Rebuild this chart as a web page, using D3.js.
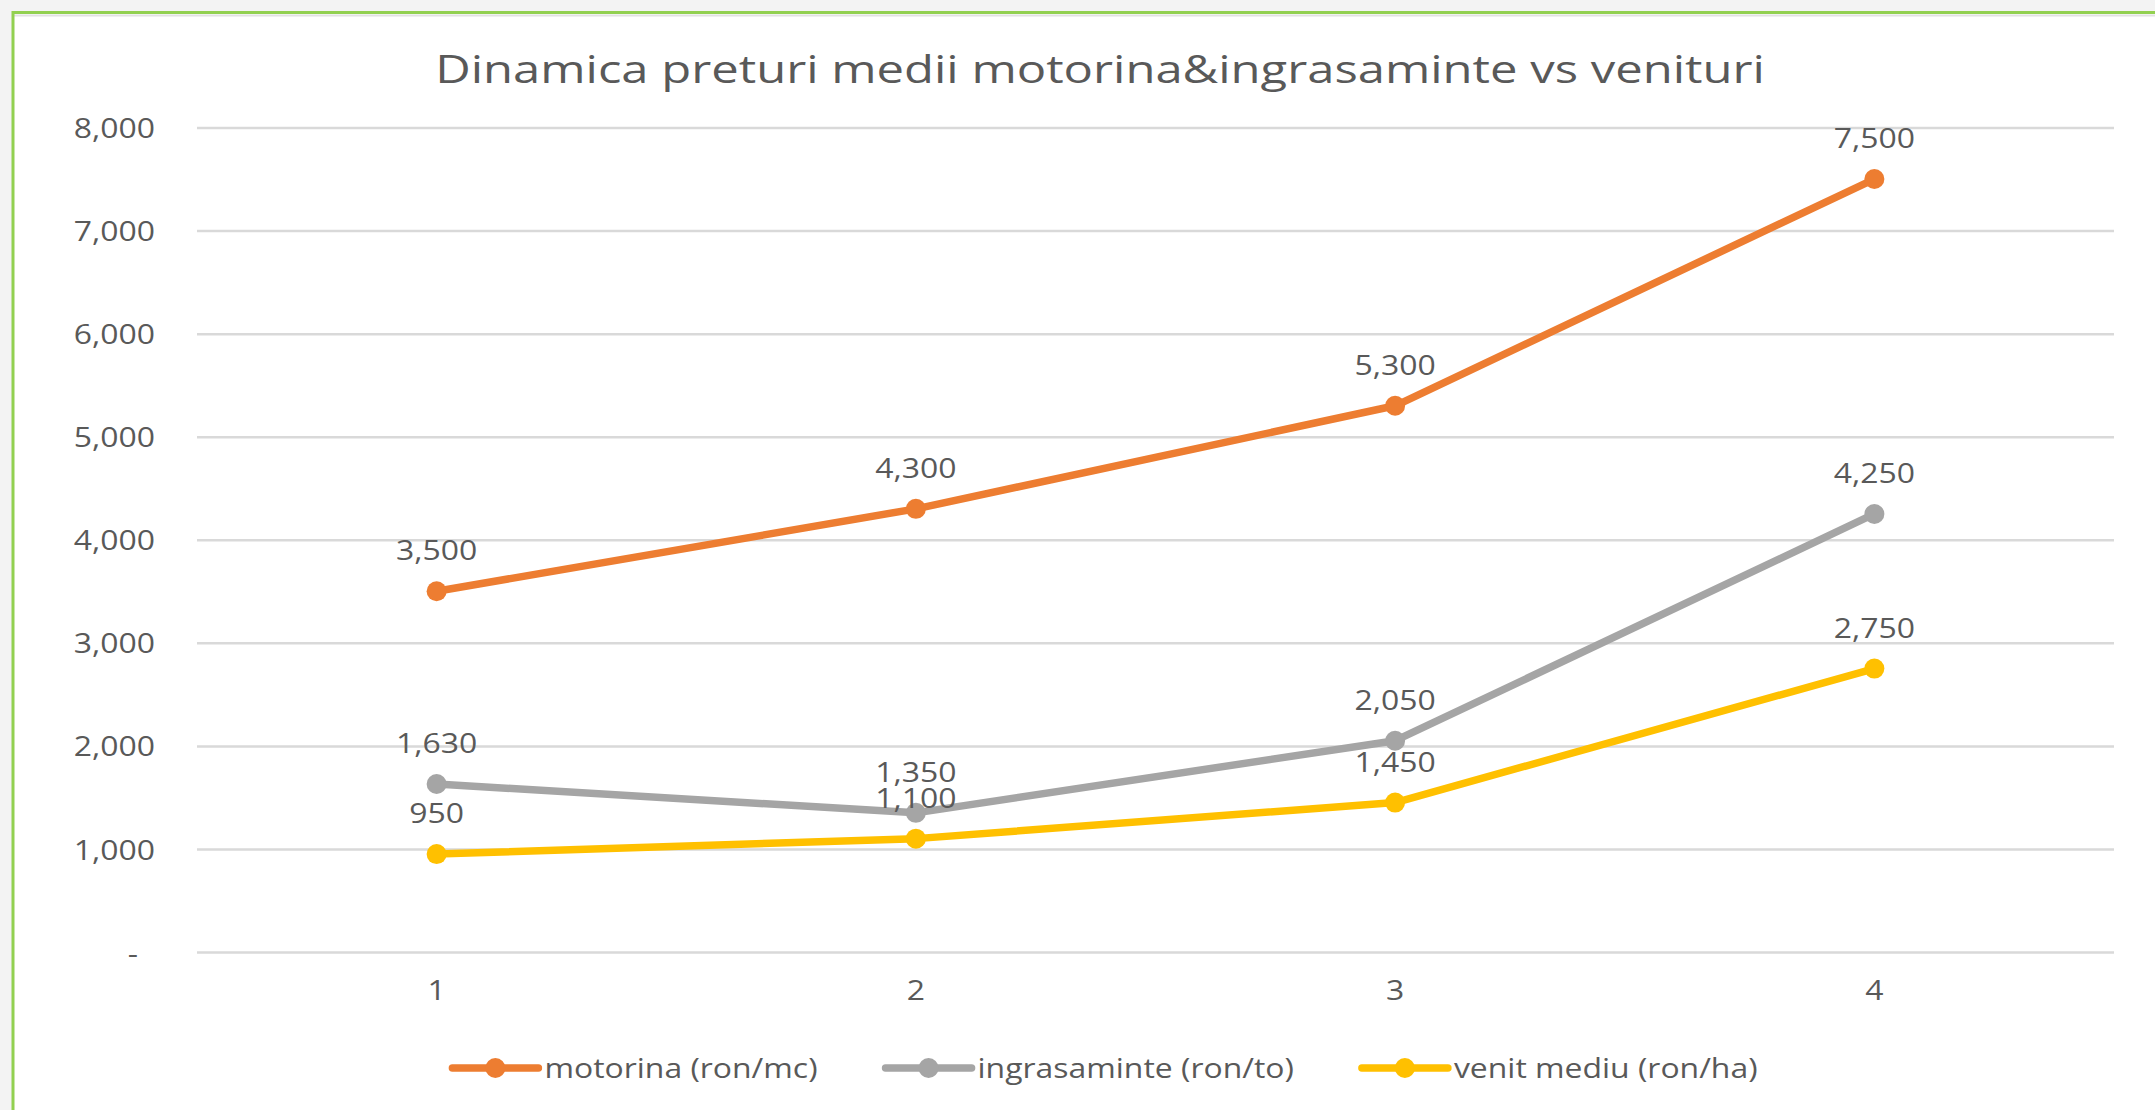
<!DOCTYPE html>
<html>
<head>
<meta charset="utf-8">
<script src="https://cdn.jsdelivr.net/npm/d3@7/dist/d3.min.js"></script>
<style>
  html, body { margin: 0; padding: 0; background: #f3f3f3; }
  svg { display: block; }
  text { font-family: "Open Sans", sans-serif; fill: #595959; }
</style>
</head>
<body>
<svg id="chart" width="2155" height="1110"></svg>
<script>
// ---- data ----
const categories = ["1", "2", "3", "4"];
const seriesNames = ["motorina (ron/mc)", "ingrasaminte (ron/to)", "venit mediu (ron/ha)"];
const motorina = [3500, 4300, 5300, 7500];
const ingrasaminte = [1630, 1350, 2050, 4250];
const venitMediu = [950, 1100, 1450, 2750];
const yTicks = [0, 1000, 2000, 3000, 4000, 5000, 6000, 7000, 8000];
const titleText = "Dinamica preturi medii motorina&ingrasaminte vs venituri";
const colors = ["#ED7D31", "#A5A5A5", "#FFC000"];

const series = [
  { name: seriesNames[0], values: motorina, color: colors[0] },
  { name: seriesNames[1], values: ingrasaminte, color: colors[1] },
  { name: seriesNames[2], values: venitMediu, color: colors[2] }
];

// ---- layout ----
const W = 2155, H = 1110;
const plot = { left: 197, right: 2114, top: 127.5, bottom: 952 };
const SX = 1.14;      // horizontal text stretch
const SX_TITLE = 1.255;
const svg = d3.select("#chart");

// chart area background + border
svg.append("rect").attr("x", 13).attr("y", 12).attr("width", W).attr("height", H)
  .attr("fill", "#ffffff");
svg.append("line").attr("x1", 13).attr("x2", W).attr("y1", 15.5).attr("y2", 15.5)
  .attr("stroke", "#e2e2e2").attr("stroke-width", 2);
svg.append("line").attr("x1", 12).attr("x2", W).attr("y1", 12.5).attr("y2", 12.5)
  .attr("stroke", "#92D050").attr("stroke-width", 3);
svg.append("line").attr("x1", 13).attr("x2", 13).attr("y1", 11).attr("y2", H)
  .attr("stroke", "#92D050").attr("stroke-width", 3);

function stretch(sel, sx) {
  sx = sx || SX;
  sel.each(function () {
    const t = d3.select(this);
    const x = +t.attr("x") || 0, y = +t.attr("y") || 0;
    t.attr("x", 0).attr("y", 0)
     .attr("transform", `translate(${x},${y}) scale(${sx},1)`);
  });
}

// scales
const x = d3.scaleBand().domain(categories).range([plot.left, plot.right]);
const cx = c => x(c) + x.bandwidth() / 2;
const y = d3.scaleLinear().domain([0, 8000]).range([plot.bottom, plot.top]);

// y axis + gridlines
const yAxis = d3.axisLeft(y)
  .tickValues(yTicks)
  .tickSizeInner(-(plot.right - plot.left))
  .tickSizeOuter(0)
  .tickPadding(42)
  .tickFormat(d => d === 0 ? "-" : d3.format(",")(d));
const gy = svg.append("g").attr("transform", `translate(${plot.left},0)`).call(yAxis);
gy.select(".domain").remove();
gy.selectAll(".tick line").attr("stroke", "#d9d9d9").attr("stroke-width", 2.5);
gy.selectAll(".tick text")
  .attr("font-size", 28).attr("fill", "#595959")
  .attr("font-family", "Open Sans")
  .attr("dy", "0.36em");
gy.selectAll(".tick text").each(function (d) {
  const t = d3.select(this);
  const dx = d === 0 ? -17 : 0;
  t.attr("x", +t.attr("x") + dx);
});
stretch(gy.selectAll(".tick text"));

// x axis labels
const xAxis = d3.axisBottom(x).tickSize(0).tickPadding(28);
const gx = svg.append("g").attr("transform", `translate(0,${plot.bottom})`).call(xAxis);
gx.select(".domain").remove();
gx.selectAll(".tick text")
  .attr("font-size", 28).attr("fill", "#595959")
  .attr("font-family", "Open Sans")
  .attr("transform", `scale(${SX},1)`);

// lines
const line = d3.line().x((d, i) => cx(categories[i])).y(d => y(d));
const gs = svg.append("g");
series.forEach(s => {
  gs.append("path").datum(s.values)
    .attr("d", line)
    .attr("fill", "none")
    .attr("stroke", s.color)
    .attr("stroke-width", 7.5)
    .attr("stroke-linejoin", "round")
    .attr("stroke-linecap", "round");
});
series.forEach(s => {
  gs.selectAll(null).data(s.values).enter().append("circle")
    .attr("cx", (d, i) => cx(categories[i]))
    .attr("cy", d => y(d))
    .attr("r", 10)
    .attr("fill", s.color);
});

// data labels
const gl = svg.append("g");
series.forEach(s => {
  const lbl = gl.selectAll(null).data(s.values).enter().append("text")
    .attr("x", (d, i) => cx(categories[i]))
    .attr("y", d => y(d) - 31)
    .attr("text-anchor", "middle")
    .attr("font-size", 28)
    .text(d => d3.format(",")(d));
  stretch(lbl);
});

// title
const title = svg.append("text")
  .attr("x", 1100).attr("y", 83)
  .attr("text-anchor", "middle")
  .attr("font-size", 39)
  .text(titleText);
stretch(title, SX_TITLE);

// legend
const legY = 1068, lineLen = 86, textGap = 6, itemGap = 68;
const gLeg = svg.append("g");
const items = series.map(s => {
  const g = gLeg.append("g");
  g.append("line").attr("x1", 0).attr("x2", lineLen).attr("y1", 0).attr("y2", 0)
    .attr("stroke", s.color).attr("stroke-width", 7.5).attr("stroke-linecap", "round");
  g.append("circle").attr("cx", lineLen / 2).attr("cy", 0).attr("r", 10).attr("fill", s.color);
  const t = g.append("text").attr("x", lineLen + textGap).attr("y", 0).attr("dy", "0.35em")
    .attr("font-size", 28).text(s.name);
  stretch(t);
  const w = lineLen + textGap + t.node().getComputedTextLength() * SX;
  return { g, w };
});
const total = d3.sum(items, d => d.w) + itemGap * (items.length - 1);
let pos = 1105 - total / 2;
items.forEach(it => {
  it.g.attr("transform", `translate(${pos},${legY})`);
  pos += it.w + itemGap;
});
</script>
</body>
</html>
